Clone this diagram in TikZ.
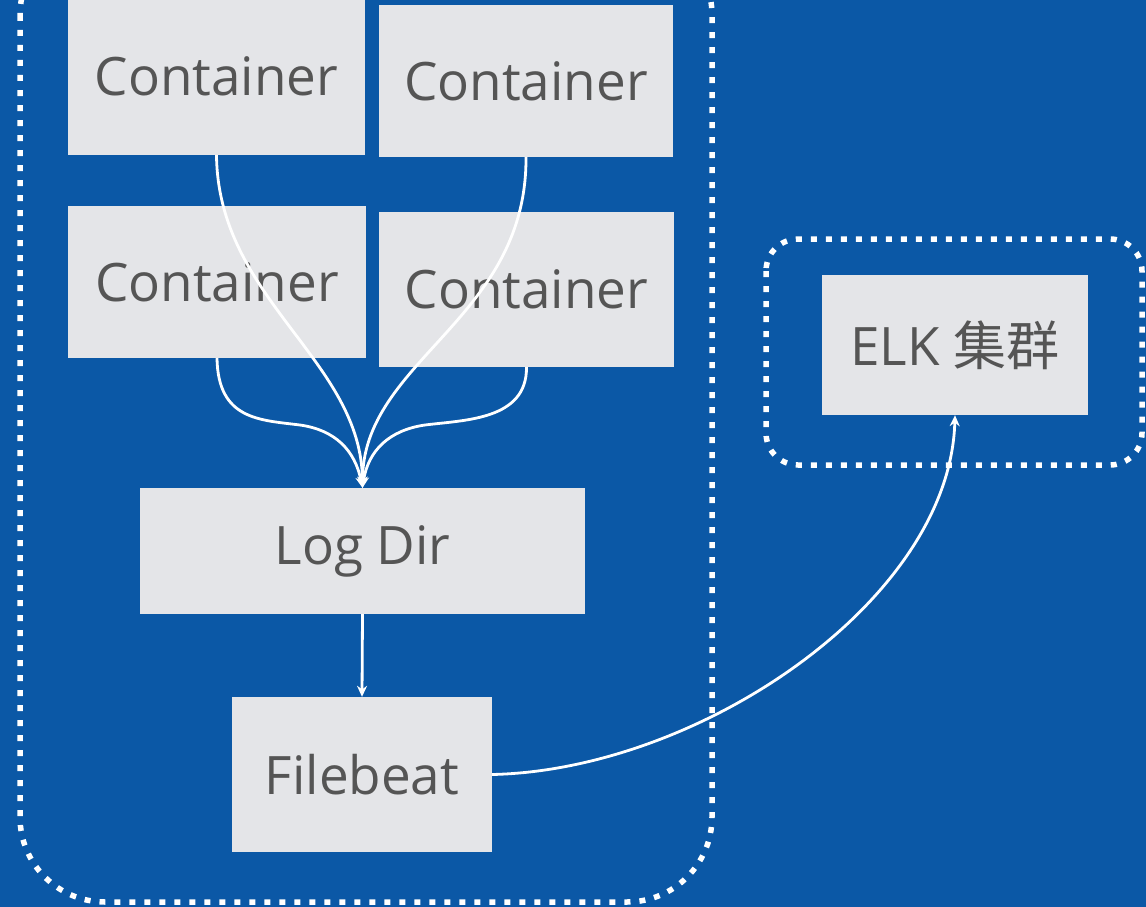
\documentclass[tikz,border=0pt]{standalone}
\usepackage{fontspec}
\setmainfont{Open Sans}
\newfontfamily\cjk{Noto Sans CJK SC}
\usetikzlibrary{arrows.meta}
\definecolor{bgblue}{HTML}{0B58A6}
\definecolor{boxgray}{HTML}{E4E5E8}
\definecolor{txtgray}{HTML}{555555}
\tikzset{
  box/.style={fill=boxgray, draw=none, inner sep=0pt, text=txtgray,
    font=\fontsize{53}{58}\selectfont},
  dotborder/.style={draw=white, line width=5.5pt, dash pattern=on 6pt off 9pt},
  conn/.style={draw=white, line width=2.8pt, -{Stealth[length=11pt,width=10pt]}},
}
\begin{document}
\begin{tikzpicture}[x=1pt,y=-1pt]
\useasboundingbox (0,0) rectangle (1146,907);
\clip (0,0) rectangle (1146,907);
\fill[bgblue] (0,0) rectangle (1146,907);
% containers
\draw[dotborder, rounded corners=85pt] (20,-70) rectangle (712,902);
\draw[dotborder, rounded corners=32pt] (766,239) rectangle (1142,465);
\node[box, minimum width=297pt, minimum height=157pt] (c1) at (216.5,76.5) {Container};
\node[box, minimum width=294pt, minimum height=152pt] (c2) at (526,81) {Container};
\node[box, minimum width=298pt, minimum height=152pt] (c3) at (217,282) {Container};
\node[box, minimum width=295pt, minimum height=155pt] (c4) at (526.5,289.5) {Container};
\node[box, minimum width=445pt, minimum height=126pt] (logdir) at (362.5,551) {Log Dir};
\node[box, minimum width=260pt, minimum height=155pt] (filebeat) at (362,774.5) {Filebeat};
\node[box, minimum width=266pt, minimum height=140pt] (elk) at (955,345) {ELK {\cjk 集群}};
% connectors
\draw[conn] (c1.south) .. controls (218,300) and (362,360) .. (logdir.north);
\draw[conn] (c2.south) .. controls (527,320) and (362,360) .. (logdir.north);
\draw[conn] (c3.south) .. controls (218,420) and (260,420) .. (300,425) .. controls (335,430) and (355,450) .. (logdir.north);
\draw[conn] (c4.south) .. controls (527,420) and (465,420) .. (425,425) .. controls (390,430) and (368,450) .. (logdir.north);
\draw[conn] (logdir.south) -- (filebeat.north);
\draw[conn] (filebeat.east) .. controls (700,770) and (950,600) .. (elk.south);
\end{tikzpicture}
\end{document}
